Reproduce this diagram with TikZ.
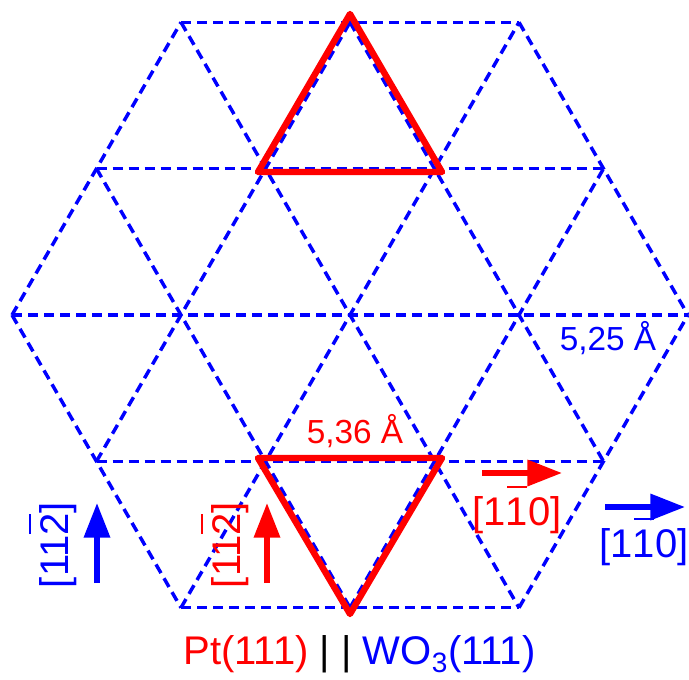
\documentclass[tikz,border=0pt]{standalone}
\usepackage{fontspec}
\setmainfont{Liberation Sans}
\usetikzlibrary{arrows.meta}
\newcommand\barred[1]{\leavevmode\rlap{\kern0.03em\rule[0.92em]{0.5em}{0.06em}}#1}
\tikzset{
 lat/.style={blue, line width=2.6pt, dash pattern=on 7.5pt off 4.5pt},
 ptri/.style={red, line width=4.8pt, line join=round},
 dirarrow/.style={line width=4.2pt, -{Triangle[length=26pt,width=19pt]}},
 big/.style={font=\fontsize{30}{36}\selectfont, inner sep=0pt},
 small/.style={font=\fontsize{25}{30}\selectfont, inner sep=0pt},
}
\begin{document}
\begin{tikzpicture}[x=0.75pt,y=-0.75pt]
\useasboundingbox (0,0) rectangle (689,679);
\foreach \i in {0,...,4}{\foreach \j in {0,...,4}{
  \coordinate (p\i\j) at ({350+169*(\i-2)+84.5*(\j-2)},{315-146.36*(\j-2)});
}}
% horizontal lines
\draw[lat] (p04) -- (p24);
\draw[lat] (p03) -- (p33);
\draw[lat] (p02) -- (p42);
\draw[lat] (p11) -- (p41);
\draw[lat] (p20) -- (p40);
% up-right lines
\draw[lat] (p02) -- (p04);
\draw[lat] (p11) -- (p14);
\draw[lat] (p20) -- (p24);
\draw[lat] (p30) -- (p33);
\draw[lat] (p40) -- (p42);
% up-left lines
\draw[lat] (p02) -- (p20);
\draw[lat] (p03) -- (p30);
\draw[lat] (p04) -- (p40);
\draw[lat] (p14) -- (p41);
\draw[lat] (p24) -- (p42);
% red triangles
\coordinate (t1) at (350,14);
\coordinate (t2) at (258,172);
\coordinate (t3) at (442,172);
\coordinate (b1) at (258,458);
\coordinate (b2) at (442,458);
\coordinate (b3) at (350,614);
\draw[ptri] (t1) -- (t2) -- (t3) -- cycle;
\draw[ptri] (b1) -- (b2) -- (b3) -- cycle;
% arrows
\coordinate (a1s) at (97,583);  \coordinate (a1e) at (97,503);
\coordinate (a2s) at (267,583); \coordinate (a2e) at (267,503);
\coordinate (a3s) at (482,473); \coordinate (a3e) at (562,473);
\coordinate (a4s) at (605,507); \coordinate (a4e) at (685,507);
\draw[dirarrow, blue] (a1s) -- (a1e);
\draw[dirarrow, red] (a2s) -- (a2e);
\draw[dirarrow, red] (a3s) -- (a3e);
\draw[dirarrow, blue] (a4s) -- (a4e);
% labels
\node[big, blue, rotate=90, anchor=base] (l1) at (68,545) {[11\barred{2}]};
\node[big, red, rotate=90, anchor=base] (l2) at (240,545) {[11\barred{2}]};
\node[big, red, anchor=base] (l3) at (517,525) {[1\barred{1}0]};
\node[big, blue, anchor=base] (l4) at (644,557) {[1\barred{1}0]};
\node[small, blue, anchor=base] (d1) at (608,350) {5,25 Å};
\node[small, red, anchor=base] (d2) at (355,443) {5,36 Å};
\node[big, anchor=base] (cap) at (359.5,664) {\textcolor{red}{Pt(111)} | | \textcolor{blue}{WO\textsubscript{3}(111)}};
\end{tikzpicture}
\end{document}
